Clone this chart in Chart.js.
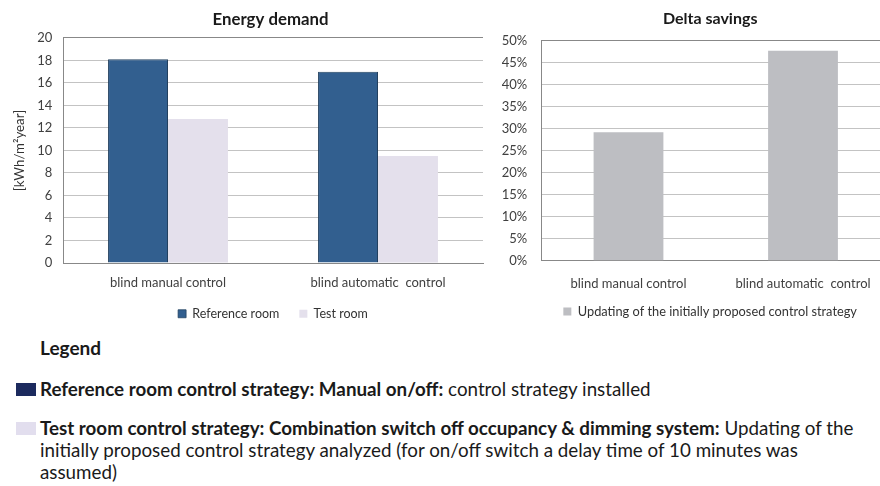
<!DOCTYPE html>
<html>
<head>
<meta charset="utf-8">
<script src="https://cdn.jsdelivr.net/npm/chart.js@4.4.1/dist/chart.umd.min.js"></script>
<style>
  html, body { margin: 0; padding: 0; background: #ffffff; }
  body { width: 880px; height: 486px; overflow: hidden; position: relative; font-family: Lato, "Open Sans", sans-serif; }
  #energy { position: absolute; left: 0; top: 0; }
  #delta { position: absolute; left: 490px; top: 0; }
  .txt { position: absolute; left: 40px; color: #1a1a1a; font-size: 18.8px; line-height: 22px; white-space: nowrap; }
  .head { position: absolute; left: 40px; top: 337px; font-size: 19px; line-height: 22px; font-weight: bold; color: #1a1a1a; }
  .sq { position: absolute; left: 16px; width: 20px; height: 13px; }
</style>
</head>
<body>
<canvas id="energy" width="490" height="330"></canvas>
<canvas id="delta" width="410" height="328"></canvas>

<div class="head">Legend</div>
<div class="sq" style="top:383px;background:#1c2a5e;"></div>
<div class="txt" style="top:377.7px;"><b>Reference room control strategy: Manual on/off:</b> control strategy installed</div>
<div class="sq" style="top:422px;background:#e2deee;"></div>
<div class="txt" style="top:416.7px;"><b>Test room control strategy: Combination switch off occupancy &amp; dimming system:</b> Updating of the<br>initially proposed control strategy analyzed (for on/off switch a delay time of 10 minutes was<br>assumed)</div>

<script>
// ---- data ----
const categories = ['blind manual control', 'blind automatic  control'];
const referenceRoom = [18.1, 17.0];      // kWh/m²year
const testRoom = [12.8, 9.5];            // kWh/m²year
const deltaSavings = [29.2, 47.7];       // %
const energyTicks = { min: 0, max: 20, step: 2 };
const deltaTicks = { min: 0, max: 50, step: 5 };

const FONT = 'Lato';
const gridColor = '#c3c3c3';
const frameColor = '#888888';
const tickColor = '#404040';

// shifts the title / legend blocks horizontally after layout
const shiftBoxes = dx => ({
  id: 'shiftBoxes',
  afterLayout(chart) {
    [chart.titleBlock, chart.legend].forEach(b => { if (b) { b.left += dx; b.right += dx; } });
  }
});

// ---- Energy demand ----
new Chart(document.getElementById('energy'), {
  type: 'bar',
  data: {
    labels: categories,
    datasets: [
      { label: 'Reference room', data: referenceRoom, backgroundColor: '#325f8f',
        borderColor: '#22405f', borderWidth: { top: 1, left: 1, right: 1, bottom: 0 },
        categoryPercentage: 0.571, barPercentage: 1 },
      { label: 'Test room', data: testRoom, backgroundColor: '#e4e0ec',
        borderWidth: 0, categoryPercentage: 0.571, barPercentage: 1 }
    ]
  },
  options: {
    responsive: false, animation: false, devicePixelRatio: 1,
    layout: { padding: { left: 0, right: 7, top: 0, bottom: 0 } },
    plugins: {
      title: { display: true, fullSize: false, text: 'Energy demand', color: '#1a1a1a',
        font: { family: FONT, size: 16.8, weight: 'bold' }, padding: { top: 9.5, bottom: 8.3 } },
      legend: { position: 'bottom', fullSize: false,
        labels: { font: { family: FONT, size: 12.5 }, color: '#333333', boxWidth: 8, boxHeight: 8, padding: 20 } },
      tooltip: { enabled: false }
    },
    scales: {
      x: {
        grid: { offset: true, drawTicks: false, color: c => c.index === 2 ? frameColor : 'transparent' },
        border: { color: frameColor },
        ticks: { font: { family: FONT, size: 13 }, color: tickColor, padding: 12.5 },
        afterFit: s => { s.height = 24.5; }
      },
      y: {
        min: energyTicks.min, max: energyTicks.max,
        ticks: { stepSize: energyTicks.step, font: { family: FONT, size: 13 }, color: tickColor, padding: 10.7 },
        grid: { drawTicks: false, color: c => (c.tick && c.tick.value === energyTicks.max) ? frameColor : gridColor },
        border: { color: frameColor },
        title: { display: true, text: '[kWh/m²year]', color: '#333333',
          font: { family: FONT, size: 13.3 }, padding: { top: 12, bottom: 0 } },
        afterFit: s => { s.width = 63; }
      }
    }
  },
  plugins: [{
    id: 'shiftTitle',
    afterLayout(chart) { const b = chart.titleBlock; if (b) { b.left -= 2.5; b.right -= 2.5; } }
  }]
});

// ---- Delta savings ----
new Chart(document.getElementById('delta'), {
  type: 'bar',
  data: {
    labels: categories,
    datasets: [
      { label: 'Updating of the initially proposed control strategy', data: deltaSavings,
        backgroundColor: '#bdbec2', borderWidth: 0, categoryPercentage: 0.4, barPercentage: 1 }
    ]
  },
  options: {
    responsive: false, animation: false, devicePixelRatio: 1,
    layout: { padding: { left: 0, right: 9.75, top: 0, bottom: 0 } },
    plugins: {
      title: { display: true, fullSize: false, text: 'Delta savings', color: '#1a1a1a',
        font: { family: FONT, size: 16, weight: 'bold' }, padding: { top: 9, bottom: 12.5 } },
      legend: { position: 'bottom', fullSize: false,
        labels: { font: { family: FONT, size: 12.8 }, color: '#333333', boxWidth: 8, boxHeight: 8, padding: 4 } },
      tooltip: { enabled: false }
    },
    scales: {
      x: {
        grid: { offset: true, drawTicks: false, color: c => c.index === 2 ? frameColor : 'transparent' },
        border: { color: frameColor },
        ticks: { font: { family: FONT, size: 13 }, color: tickColor, padding: 15.5 },
        afterFit: s => { s.height = 40.5; }
      },
      y: {
        min: deltaTicks.min, max: deltaTicks.max,
        ticks: { stepSize: deltaTicks.step, font: { family: FONT, size: 13 }, color: tickColor, padding: 14,
          callback: v => v + '%' },
        grid: { drawTicks: false, color: c => (c.tick && c.tick.value === deltaTicks.max) ? frameColor : gridColor },
        border: { color: frameColor },
        afterFit: s => { s.width = 51.25; }
      }
    }
  },
  plugins: [shiftBoxes(-5.6)]
});
</script>
</body>
</html>
